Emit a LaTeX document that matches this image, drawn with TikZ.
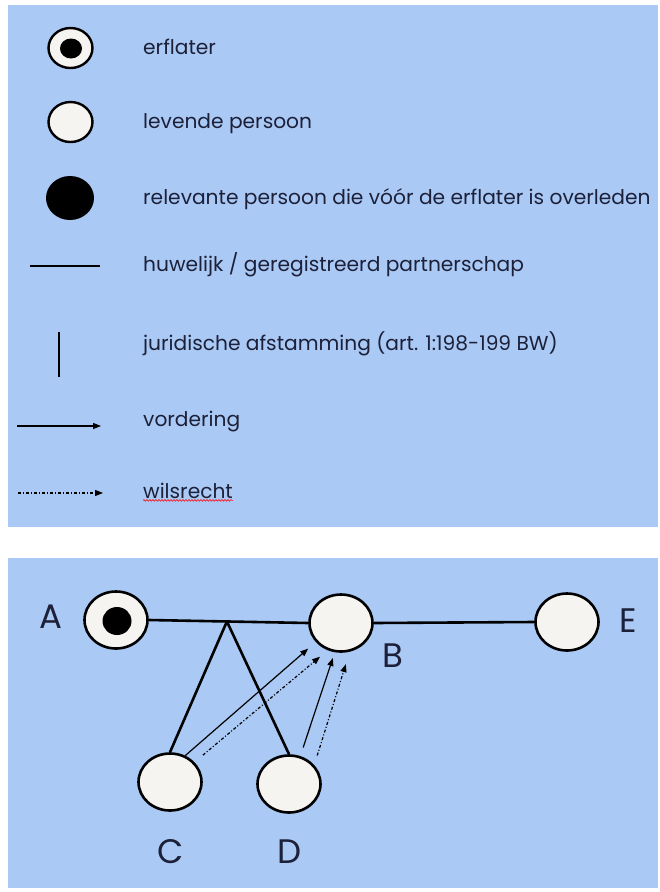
\documentclass[tikz,border=0pt]{standalone}
\usepackage{fontspec}
\setmainfont{Poppins}
\usetikzlibrary{arrows.meta,shapes.geometric,calc,decorations.pathmorphing}
\definecolor{panel}{RGB}{170,201,245}
\definecolor{ink}{RGB}{28,32,56}
\definecolor{pfill}{RGB}{246,244,241}
\begin{document}
\begin{tikzpicture}[x=1pt,y=-1pt,
  lperson/.style={ellipse,draw=black,line width=2.4pt,fill=pfill,inner sep=0pt,minimum width=44pt,minimum height=40pt},
  ldead/.style={ellipse,fill=black,inner sep=0pt,minimum width=48pt,minimum height=44pt},
  ldot/.style={ellipse,fill=black,inner sep=0pt,minimum width=22pt,minimum height=20pt},
  person/.style={ellipse,draw=black,line width=2.6pt,fill=pfill,inner sep=0pt,minimum width=63pt,minimum height=57pt},
  bdot/.style={ellipse,fill=black,inner sep=0pt,minimum width=29pt,minimum height=28pt},
  legtext/.style={anchor=base west,inner sep=0pt,text=ink,font=\fontsize{20.2}{22}\selectfont},
  letter/.style={inner sep=0pt,text=ink,font=\fontsize{34}{36}\selectfont},
  marriage/.style={line width=2.6pt,black},
  descent/.style={line width=2.6pt,black},
  claim/.style={line width=1.2pt,black,-{Triangle[length=8pt,width=6pt]}},
  will/.style={line width=1.2pt,black,dash pattern=on 3pt off 2pt on 1pt off 2pt,-{Triangle[length=8pt,width=6pt]}}
]
\useasboundingbox (0,0) rectangle (660,892);
\fill[panel] (8,5) rectangle (658,527);
\fill[panel] (8,558) rectangle (658,888);

% ---------- legend ----------
\node[lperson] (l1) at (70.5,48) {};
\node[ldot] (l1d) at (71,48.5) {};
\node[legtext] (t1) at (143,54) {erflater};

\node[lperson] (l2) at (70.5,122) {};
\node[legtext] (t2) at (143,128) {levende persoon};

\node[ldead] (l3) at (70,198) {};
\node[legtext] (t3) at (143,204) {relevante persoon die vóór de erflater is overleden};

\coordinate (h1) at (30,266);
\coordinate (h2) at (100,266);
\draw[line width=2pt] (h1) -- (h2);
\node[legtext] (t4) at (143,271) {huwelijk / geregistreerd partnerschap};

\coordinate (v1) at (59,332);
\coordinate (v2) at (59,377);
\draw[line width=2.4pt] (v1) -- (v2);
\node[legtext] (t5) at (143,350) {juridische afstamming (art. 1:198-199 BW)};

\coordinate (a1) at (17,426);
\coordinate (a2) at (101,426);
\draw[claim] (a1) -- (a2);
\node[legtext] (t6) at (143,426) {vordering};

\coordinate (w1) at (18,493);
\coordinate (w2) at (103,493);
\draw[will] (w1) -- (w2);
\node[legtext] (t7) at (143,498) {wilsrecht};
\draw[red,line width=0.6pt,decorate,decoration={snake,amplitude=0.8pt,segment length=3pt}]
  ($(t7.south west)+(0,2)$) -- ($(t7.south east)+(0,2)$);

% ---------- family diagram ----------
\node[person] (A) at (116,620) {};
\node[bdot] (Ad) at (117,621) {};
\node[person] (B) at (341,623) {};
\node[person] (E) at (567,622) {};
\node[person] (C) at (170,782) {};
\node[person] (D) at (289,784) {};

\node[letter] (LA) at (51,617) {A};
\node[letter] (LB) at (393,656) {B};
\node[letter] (LC) at (171,852) {C};
\node[letter] (LD) at (290,852) {D};
\node[letter] (LE) at (628,621) {E};

\draw[marriage] (A.east) -- (B.west);
\draw[marriage] (B.east) -- (E.west);
\coordinate (J) at ($(A.east)!0.49!(B.west)$);
\draw[descent] (J) -- (C.north);
\draw[descent] (J) -- (D.north);

\draw[claim,shorten >=10pt] (C.60) -- (B.217);
\draw[will,shorten <=11pt,shorten >=10pt] (C.39) -- (B.244);
\draw[claim,shorten <=9pt,shorten >=6pt] (D.68) -- (B.258);
\draw[will,shorten <=10pt,shorten >=13pt] (D.37) -- (B.287);
\end{tikzpicture}
\end{document}
